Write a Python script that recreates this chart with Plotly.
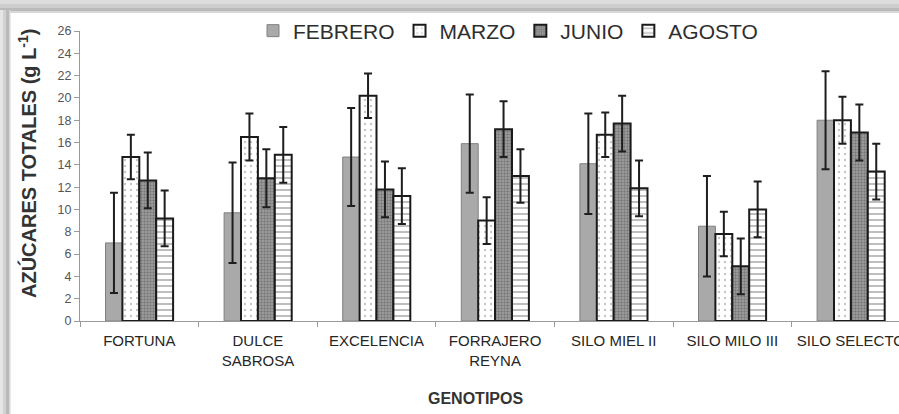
import plotly.graph_objects as go

# Genotypes (x categories) and sampling months (series)
genotipos = ["FORTUNA", "DULCE<br>SABROSA", "EXCELENCIA", "FORRAJERO<br>REYNA",
             "SILO MIEL II", "SILO MILO III", "SILO SELECTO"]

febrero = [7.0, 9.7, 14.7, 15.9, 14.1, 8.5, 18.0]
febrero_err = [4.5, 4.5, 4.4, 4.4, 4.5, 4.5, 4.4]

marzo = [14.7, 16.5, 20.2, 9.0, 16.7, 7.8, 18.0]
marzo_err = [2.0, 2.1, 2.0, 2.1, 2.0, 2.0, 2.1]

junio = [12.6, 12.8, 11.8, 17.2, 17.7, 4.9, 16.9]
junio_err = [2.5, 2.6, 2.5, 2.5, 2.5, 2.5, 2.5]

agosto = [9.2, 14.9, 11.2, 13.0, 11.9, 10.0, 13.4]
agosto_err = [2.5, 2.5, 2.5, 2.4, 2.5, 2.5, 2.5]

y_ticks = list(range(0, 27, 2))

W, H = 899, 414
ML, MR, MT, MB = 80, 0, 31, 93
PW, PH = W - ML - MR, H - MT - MB
CAT_PX = 118.6  # width of one category slot in pixels


def px_x(p):
    return (p - ML) / PW


def px_y(p):
    return (H - MB - p) / PH


err_style = dict(type="data", visible=True, color="#1e1e1e", thickness=2, width=4)
text_font = "Liberation Sans, Arial, sans-serif"

fig = go.Figure()
fig.add_trace(go.Bar(
    name="FEBRERO", x=genotipos, y=febrero,
    error_y=dict(array=febrero_err, **err_style),
    marker=dict(color="#a9a9a9", line=dict(color="#808080", width=1)),
))
fig.add_trace(go.Bar(
    name="MARZO", x=genotipos, y=marzo,
    error_y=dict(array=marzo_err, **err_style),
    marker=dict(color="white", line=dict(color="#1a1a1a", width=2),
                pattern=dict(shape=".", fgcolor="#8c8c8c", bgcolor="white",
                             size=6, solidity=0.12)),
))
fig.add_trace(go.Bar(
    name="JUNIO", x=genotipos, y=junio,
    error_y=dict(array=junio_err, **err_style),
    marker=dict(color="#8e8e8e", line=dict(color="#1a1a1a", width=2),
                pattern=dict(shape=".", fgcolor="#4e4e4e", bgcolor="#a4a4a4",
                             size=3, solidity=0.5)),
))
fig.add_trace(go.Bar(
    name="AGOSTO", x=genotipos, y=agosto,
    error_y=dict(array=agosto_err, **err_style),
    marker=dict(color="white", line=dict(color="#1a1a1a", width=2),
                pattern=dict(shape="-", fgcolor="#6e6e6e", bgcolor="white",
                             size=6, solidity=0.3)),
))

# soft grey drop-shadow bands along the top and left edges of the figure
shapes = []
top_band = [(0, 4, "#dcdcdc"), (4, 8, "#cdcdcd"), (8, 11, "#bababa"), (11, 13, "#d8d8d8")]
for y0, y1, c in top_band:
    shapes.append(dict(type="rect", xref="paper", yref="paper",
                       x0=px_x(0), x1=px_x(W), y0=px_y(y1), y1=px_y(y0),
                       fillcolor=c, line=dict(width=0), layer="below"))
left_band = [(0, 3, "#e6e6e6"), (3, 6, "#d2d2d2"), (6, 9, "#bababa"), (9, 10.5, "#d6d6d6")]
for x0, x1, c in left_band:
    shapes.append(dict(type="rect", xref="paper", yref="paper",
                       x0=px_x(x0), x1=px_x(x1), y0=px_y(H), y1=px_y(10),
                       fillcolor=c, line=dict(width=0), layer="below"))

fig.update_layout(
    width=W, height=H,
    margin=dict(l=ML, r=MR, t=MT, b=MB, autoexpand=False),
    paper_bgcolor="white", plot_bgcolor="white",
    barmode="group", bargap=0.43, bargroupgap=0.0,
    showlegend=True,
    legend=dict(orientation="h", x=px_x(253), xanchor="left", y=px_y(31), yanchor="middle",
                font=dict(family=text_font, size=21, color="#2e2e2e"),
                bgcolor="rgba(0,0,0,0)", traceorder="normal"),
    xaxis=dict(type="category", range=[-0.5, -0.5 + PW / CAT_PX],
               showline=True, linecolor="#9a9a9a", linewidth=1,
               ticks="outside", tickson="boundaries", ticklen=5, tickcolor="#9a9a9a",
               tickangle=0, ticklabelstandoff=6,
               tickfont=dict(family=text_font, size=15, color="#262626"),
               showgrid=False, zeroline=False, automargin=False),
    yaxis=dict(range=[0, 26], tickvals=y_ticks,
               showline=True, linecolor="#9a9a9a", linewidth=1,
               ticks="outside", ticklen=5, tickcolor="#9a9a9a",
               tickfont=dict(family=text_font, size=12.5, color="#555555"),
               showgrid=False, zeroline=False, automargin=False),
    shapes=shapes,
    annotations=[
        dict(text="AZÚCARES TOTALES (g L<sup>-1</sup>)", textangle=-90,
             xref="paper", yref="paper", x=px_x(27), y=px_y(163),
             xanchor="center", yanchor="middle", showarrow=False,
             font=dict(family=text_font, size=20, color="#333333", weight="bold")),
        dict(text="GENOTIPOS", xref="paper", yref="paper",
             x=px_x(475), y=px_y(398), xanchor="center", yanchor="middle",
             showarrow=False,
             font=dict(family=text_font, size=16, color="#333333", weight="bold")),
    ],
)

fig.write_html("out.html")
